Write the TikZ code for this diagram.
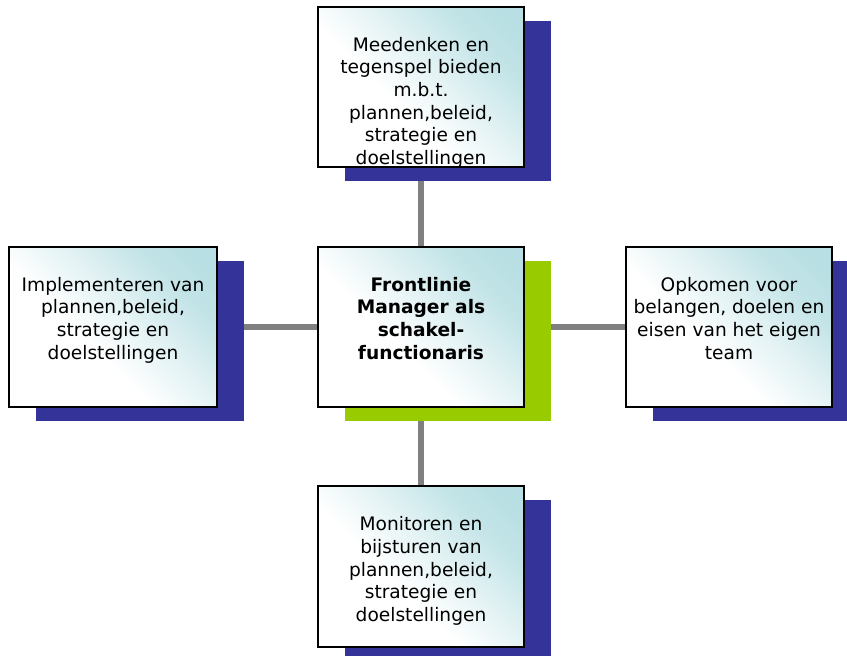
\documentclass[tikz,border=0pt]{standalone}
\usepackage{fontspec}
\setmainfont{DejaVu Sans}
\usetikzlibrary{shadows,backgrounds}
\definecolor{shadowblue}{RGB}{51,51,153}
\definecolor{shadowgreen}{RGB}{153,204,0}
\definecolor{tealtop}{RGB}{184,223,227}
\definecolor{conngray}{RGB}{128,128,128}
\colorlet{tealA}{tealtop!40!white}
\colorlet{tealB}{tealtop!85!white}
\pgfdeclareverticalshading{boxshade}{100bp}{color(0bp)=(white); color(42bp)=(white); color(56bp)=(tealA); color(70bp)=(tealB); color(80bp)=(tealtop); color(100bp)=(tealtop)}
\tikzset{
  box/.style={rectangle, draw=black, line width=2pt, minimum width=206pt, minimum height=160pt, inner sep=0pt,
    shade, shading=boxshade, shading angle=-45,
    general shadow={shadow xshift=27pt, shadow yshift=-14pt, fill=#1}},
  box/.default=shadowblue,
  conn/.style={draw=conngray, line width=6pt},
}
\newcommand{\boxtext}[1]{\parbox[c][100pt][t]{204pt}{\centering\fontsize{18.6}{22.7}\selectfont #1}}
\begin{document}
\begin{tikzpicture}[x=1pt,y=-1pt]
\useasboundingbox (0,0) rectangle (847,656);
\clip (0,0) rectangle (847,656);
\node[box] (top) at (421,87) {\boxtext{Meedenken en\\tegenspel bieden\\m.b.t.\\plannen,beleid,\\strategie en\\doelstellingen}};
\node[box=shadowgreen] (center) at (421,327) {\boxtext{\bfseries Frontlinie\\Manager als\\schakel-\\functionaris}};
\node[box, minimum width=208pt] (left) at (113,327) {\boxtext{Implementeren van\\plannen,beleid,\\strategie en\\doelstellingen}};
\node[box] (right) at (729,327) {\boxtext{Opkomen voor\\belangen, doelen en\\eisen van het eigen\\team}};
\node[box, minimum height=161pt] (bottom) at (421,566.5) {\boxtext{Monitoren en\\bijsturen van\\plannen,beleid,\\strategie en\\doelstellingen}};
\begin{scope}[on background layer]
\draw[conn] (top) -- (center);
\draw[conn] (left) -- (center);
\draw[conn] (center) -- (right);
\draw[conn] (center) -- (bottom);
\end{scope}
\end{tikzpicture}
\end{document}
